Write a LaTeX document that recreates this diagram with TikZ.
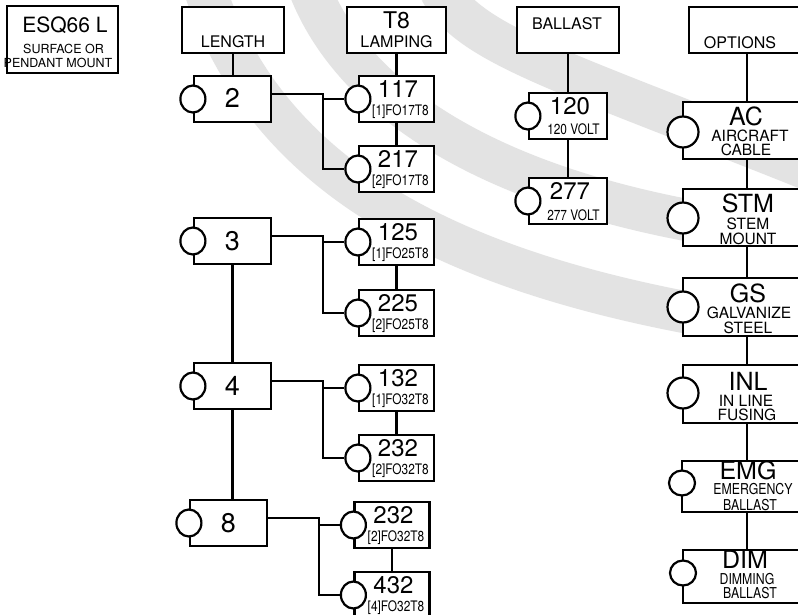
\documentclass[tikz,border=0pt]{standalone}
\usepackage{fontspec}
\setmainfont{TeX Gyre Heros}
\newfontfamily\narrowfont[FakeStretch=0.82]{TeX Gyre Heros}
\usetikzlibrary{shapes.geometric}
\definecolor{swoosh}{gray}{0.89}
\begin{document}
\begin{tikzpicture}[x=1pt,y=-1pt,line width=2.2pt,
  box/.style={draw,fill=white,inner sep=0pt,line width=2.2pt},
  port/.style={ellipse,draw,fill=white,inner sep=0pt,line width=2.2pt,minimum width=25pt,minimum height=27pt},
  bport/.style={ellipse,draw,fill=white,inner sep=0pt,line width=2.2pt,minimum width=31pt,minimum height=31pt},
  sport/.style={ellipse,draw,fill=white,inner sep=0pt,line width=2.2pt,minimum width=26pt,minimum height=25pt},
  lenbox/.style={box,minimum width=77pt,minimum height=46pt},
  lampbox/.style={box,minimum width=75pt,minimum height=46pt},
  balbox/.style={box,minimum width=78pt,minimum height=46pt},
  hdrbox/.style={box,minimum height=46pt},
  txt/.style={anchor=base,inner sep=0pt},
  bigtxt/.style={txt,font=\fontsize{27}{27}\selectfont},
  ttltxt/.style={txt,font=\fontsize{24}{24}\selectfont},
  subtxt/.style={txt,font=\narrowfont\fontsize{14.5}{14.5}\selectfont},
  hdrtxt/.style={txt,font=\fontsize{16}{16}\selectfont},
  opttxt/.style={txt,font=\fontsize{25}{25}\selectfont},
  osubtxt/.style={txt,font=\fontsize{15.5}{15.5}\selectfont},
  onartxt/.style={txt,font=\narrowfont\fontsize{15}{15}\selectfont},
  swooshband/.style={draw=swoosh,line width=42pt}
]
\useasboundingbox (0,0) rectangle (798,615);
\clip (0,0) rectangle (798,615);
\fill[white] (0,0) rectangle (798,615);

% background swooshes
\draw[swooshband] (205,-10) .. controls (260,150) and (400,260) .. (700,315);
\draw[swooshband] (310,-10) .. controls (350,90) and (470,185) .. (720,226);
\draw[swooshband] (440,-10) .. controls (470,45) and (560,70) .. (810,170);

% title box
\node[box,minimum width=111pt,minimum height=67pt] (esq) at (62.5,39.5) {};
\node[txt,font=\fontsize{21}{21}\selectfont] (esqt) at (65,33) {ESQ66 L};
\node[txt,font=\fontsize{12.5}{12.5}\selectfont] (esqs1) at (63.5,54) {SURFACE OR};
\node[txt,font=\fontsize{12.5}{12.5}\selectfont] (esqs2) at (58,68) {PENDANT MOUNT};

% headers
\node[hdrbox,minimum width=102pt] (hlen) at (233,30) {};
\node[hdrtxt] (hlent) at (233,48) {LENGTH};
\node[hdrbox,minimum width=99pt] (hlamp) at (396.5,30) {};
\node[txt,font=\fontsize{23}{23}\selectfont] (hlampt) at (396.5,29) {T8};
\node[hdrtxt] (hlamps) at (396.5,48) {LAMPING};
\node[hdrbox,minimum width=102pt] (hbal) at (568,30) {};
\node[hdrtxt] (hbalt) at (567,30) {BALLAST};
\node[hdrbox,minimum width=121pt] (hopt) at (749.5,30) {};
\node[hdrtxt] (hoptt) at (740,49) {OPTIONS};

% length boxes
\node[lenbox] (n2) at (232.5,99) {};
\node[port] (c2) at (n2.west) {};
\node[bigtxt] (t2) at (232.5,108) {2};
\node[lenbox] (n3) at (232.5,241) {};
\node[port] (c3) at (n3.west) {};
\node[bigtxt] (t3) at (232.5,250) {3};
\node[lenbox] (n4) at (232.5,386) {};
\node[port] (c4) at (n4.west) {};
\node[bigtxt] (t4) at (232.5,395) {4};
\node[lenbox] (n8) at (228.5,523) {};
\node[port] (c8) at (n8.west) {};
\node[bigtxt] (t8) at (228.5,532) {8};

% lamping boxes
\node[lampbox] (l117) at (396.5,99) {};
\node[port] (c117) at (l117.west) {};
\node[ttltxt] (t117) at (398,97.5) {117};
\node[subtxt] (s117) at (400.5,115.5) {[1]FO17T8};

\node[lampbox] (l217) at (396.5,169) {};
\node[port] (c217) at (l217.west) {};
\node[ttltxt] (t217) at (398,167.5) {217};
\node[subtxt] (s217) at (400.5,185.5) {[2]FO17T8};

\node[lampbox] (l125) at (396.5,242) {};
\node[port] (c125) at (l125.west) {};
\node[ttltxt] (t125) at (398,240.5) {125};
\node[subtxt] (s125) at (400.5,258.5) {[1]FO25T8};

\node[lampbox] (l225) at (396.5,313) {};
\node[port] (c225) at (l225.west) {};
\node[ttltxt] (t225) at (398,311.5) {225};
\node[subtxt] (s225) at (400.5,329.5) {[2]FO25T8};

\node[lampbox] (l132) at (396.5,388) {};
\node[port] (c132) at (l132.west) {};
\node[ttltxt] (t132) at (398,386.5) {132};
\node[subtxt] (s132) at (400.5,404.5) {[1]FO32T8};

\node[lampbox] (l232) at (396.5,458) {};
\node[port] (c232) at (l232.west) {};
\node[ttltxt] (t232) at (398,456.5) {232};
\node[subtxt] (s232) at (400.5,474.5) {[2]FO32T8};

\node[lampbox] (l232b) at (392,525) {};
\node[port] (c232b) at (l232b.west) {};
\node[ttltxt] (t232b) at (393.5,523.5) {232};
\node[subtxt] (s232b) at (396,541.5) {[2]FO32T8};

\node[lampbox] (l432) at (392,595) {};
\node[port] (c432) at (l432.west) {};
\node[ttltxt] (t432) at (393.5,593.5) {432};
\node[subtxt] (s432) at (396,611.5) {[4]FO32T8};

% ballast boxes
\node[balbox] (b120) at (568,116) {};
\node[port] (c120) at (b120.west) {};
\node[ttltxt] (t120) at (570,115) {120};
\node[subtxt] (s120) at (573.5,135) {120 VOLT};
\node[balbox] (b277) at (568,201) {};
\node[port] (c277) at (b277.west) {};
\node[ttltxt] (t277) at (570,200) {277};
\node[subtxt] (s277) at (573.5,220) {277 VOLT};

% option boxes
\node[box,minimum width=127pt,minimum height=57pt] (oac) at (746.5,130.5) {};
\node[bport] (cac) at (683,132) {};
\node[opttxt] (tac) at (746,126) {AC};
\node[osubtxt] (sac1) at (750,141.5) {AIRCRAFT};
\node[osubtxt] (sac2) at (746,155.5) {CABLE};

\node[box,minimum width=127pt,minimum height=57pt] (ostm) at (746.5,217.5) {};
\node[bport] (cstm) at (683,218) {};
\node[opttxt] (tstm) at (748,212.5) {STM};
\node[osubtxt] (sstm1) at (748,229) {STEM};
\node[osubtxt] (sstm2) at (748,244) {MOUNT};

\node[box,minimum width=127pt,minimum height=58pt] (ogs) at (746.5,307) {};
\node[bport] (cgs) at (683,307) {};
\node[opttxt] (tgs) at (748,302.5) {GS};
\node[osubtxt] (sgs1) at (749,318) {GALVANIZE};
\node[osubtxt] (sgs2) at (748,333) {STEEL};

\node[box,minimum width=127pt,minimum height=58pt] (oinl) at (746.5,394) {};
\node[bport] (cinl) at (683,393) {};
\node[opttxt] (tinl) at (748,390.5) {INL};
\node[osubtxt] (sinl1) at (746,406.5) {IN LINE};
\node[osubtxt] (sinl2) at (747,420.5) {FUSING};

\node[box,minimum width=128pt,minimum height=51pt] (oemg) at (746,486.5) {};
\node[sport] (cemg) at (682,483) {};
\node[opttxt] (temg) at (748,479) {EMG};
\node[onartxt] (semg1) at (753,494.5) {EMERGENCY};
\node[onartxt] (semg2) at (750,510) {BALLAST};

\node[box,minimum width=127pt,minimum height=53pt] (odim) at (746.5,576.5) {};
\node[sport] (cdim) at (683,573) {};
\node[opttxt] (tdim) at (745,568) {DIM};
\node[onartxt] (sdim1) at (747,584) {DIMMING};
\node[onartxt] (sdim2) at (750,598.5) {BALLAST};

% connectors: length column
\draw (hlen.south) -- (hlen.south |- n2.north);
\draw (n3.south) -- (n4.north);
\draw (n4.south) -- (n4.south |- n8.north);

% connectors: lamping column
\draw (hlamp.south) -- (l117.north);
\draw (l117.south) -- (l217.north);
\draw (l125.south) -- (l225.north);
\draw (l132.south) -- (l232.north);
\draw (l232b.south) -- (l432.north);

% branch connectors
\coordinate (j2) at (323,94);
\draw (n2.east |- j2) -| (j2 |- c217) -- (c217.west);
\draw (j2 |- c117) -- (c117.west);
\coordinate (j3) at (323,236);
\draw (n3.east |- j3) -| (j3 |- c225) -- (c225.west);
\draw (j3 |- c125) -- (c125.west);
\coordinate (j4) at (323,381);
\draw (n4.east |- j4) -| (j4 |- c232) -- (c232.west);
\draw (j4 |- c132) -- (c132.west);
\coordinate (j8) at (319,518);
\draw (n8.east |- j8) -| (j8 |- c432) -- (c432.west);
\draw (j8 |- c232b) -- (c232b.west);

% connectors: ballast
\draw (hbal.south) -- (hbal.south |- b120.north);
\draw (b120.south) -- (b277.north);

% connectors: options
\coordinate (ox) at (747,0);
\draw (ox |- hopt.south) -- (ox |- oac.north);
\draw (ox |- oac.south) -- (ox |- ostm.north);
\draw (ox |- ostm.south) -- (ox |- ogs.north);
\draw (ox |- ogs.south) -- (ox |- oinl.north);
\draw (ox |- oinl.south) -- (ox |- oemg.north);
\draw (ox |- oemg.south) -- (ox |- odim.north);
\end{tikzpicture}
\end{document}
